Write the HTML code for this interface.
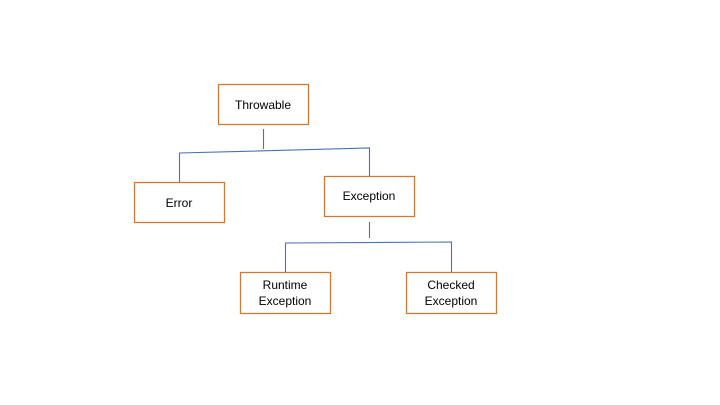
<!DOCTYPE html>
<html><head><style>
body{margin:0;width:720px;height:405px;background:#fff;overflow:hidden}
svg{display:block}
text{font-family:"Liberation Sans",sans-serif;font-size:12px;fill:#000;text-anchor:middle}
</style></head><body>
<svg width="720" height="405">
<g fill="#fff" stroke="#d07a3a" stroke-width="1.3">
<rect x="218.5" y="84.5" width="90" height="40"/>
<rect x="134.5" y="182.5" width="90" height="40"/>
<rect x="324.5" y="176.5" width="90" height="40"/>
<rect x="240.5" y="272.5" width="90" height="41"/>
<rect x="406.5" y="272.5" width="90" height="41"/>
</g>
<g stroke="#4a72b0" stroke-width="1.1" fill="none">
<line x1="263.5" y1="129" x2="263.5" y2="149"/>
<polyline points="179.5,182 179.5,153 369.5,148 369.5,176"/>
<line x1="369.5" y1="222" x2="369.5" y2="238"/>
<polyline points="285.5,272 285.5,243 451.5,242 451.5,272"/>
</g>
<text x="263" y="109">Throwable</text>
<text x="179" y="207">Error</text>
<text x="369" y="200">Exception</text>
<text x="285" y="289">Runtime</text>
<text x="285" y="305">Exception</text>
<text x="451" y="289">Checked</text>
<text x="451" y="305">Exception</text>
</svg>
</body></html>
